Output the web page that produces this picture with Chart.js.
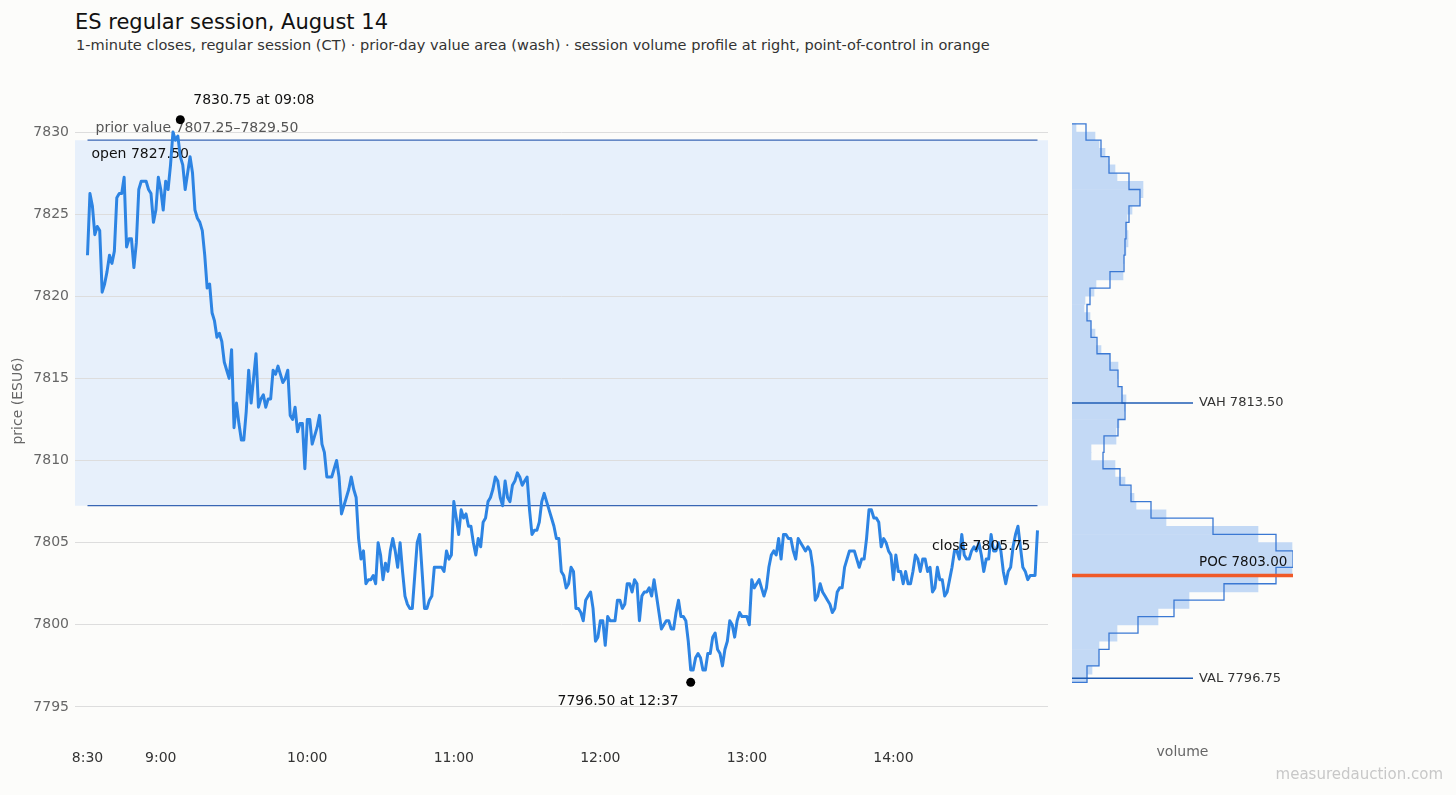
<!DOCTYPE html>
<html>
<head>
<meta charset="utf-8">
<script src="https://cdn.jsdelivr.net/npm/chart.js@4.4.1/dist/chart.umd.min.js"></script>
<style>
  html, body { margin: 0; padding: 0; background: #fcfcfa; }
  body { width: 1456px; height: 795px; position: relative; overflow: hidden; font-family: "DejaVu Sans", sans-serif; }
  #title    { position: absolute; left: 75px; top: 10px; font-size: 21px; color: #111; white-space: nowrap; }
  #subtitle { position: absolute; left: 76px; top: 36px; font-size: 14.55px; color: #333; white-space: nowrap; }
  #mark     { position: absolute; right: 13px; top: 765px; font-size: 15px; color: #c8c8c8; }
  #mainWrap { position: absolute; left: 0; top: 0; width: 1060px; height: 795px; }
  #profWrap { position: absolute; left: 1060px; top: 0; width: 396px; height: 795px; }
</style>
</head>
<body>
<div id="title">ES regular session, August 14</div>
<div id="subtitle">1-minute closes, regular session (CT) · prior-day value area (wash) · session volume profile at right, point-of-control in orange</div>
<div id="mainWrap"><canvas id="priceChart"></canvas></div>
<div id="profWrap"><canvas id="profileChart"></canvas></div>
<div id="mark">measuredauction.com</div>

<script>
// 1-minute closes from 08:30 CT, one per minute (index = minutes after the open)
const closes = [
  7822.5, 7826.25, 7825.5, 7823.75, 7824.25, 7824.0, 7820.25, 7820.75, 7821.5, 7822.5,
  7822.0, 7822.75, 7826.0, 7826.25, 7826.25, 7827.25, 7823.0, 7823.5, 7823.5, 7821.75,
  7823.25, 7826.5, 7827.0, 7827.0, 7827.0, 7826.5, 7826.25, 7824.5, 7825.25, 7827.25,
  7826.5, 7825.25, 7827.0, 7826.5, 7828.0, 7830.0, 7829.5, 7829.75, 7828.5, 7828.0,
  7826.5, 7827.5, 7828.5, 7827.5, 7825.25, 7824.75, 7824.5, 7824.0, 7822.5, 7820.5,
  7820.75, 7819.0, 7818.5, 7817.5, 7817.75, 7817.25, 7816.0, 7815.5, 7815.0, 7816.75,
  7812.0, 7813.5, 7812.25, 7811.25, 7811.25, 7813.0, 7815.5, 7813.5, 7815.0, 7816.5,
  7813.25, 7813.75, 7814.0, 7813.25, 7813.75, 7813.75, 7815.5, 7815.25, 7815.75, 7815.25,
  7814.75, 7815.0, 7815.5, 7812.75, 7812.5, 7813.25, 7811.75, 7812.25, 7812.25, 7809.5,
  7812.5, 7812.5, 7811.0, 7811.5, 7812.0, 7812.75, 7811.0, 7810.5, 7809.0, 7809.0,
  7809.0, 7809.5, 7810.0, 7809.0, 7806.75, 7807.25, 7807.75, 7808.25, 7809.0, 7808.25,
  7807.75, 7805.25, 7804.0, 7804.5, 7802.5, 7802.75, 7802.75, 7803.0, 7802.5, 7805.0,
  7804.25, 7802.75, 7803.75, 7803.25, 7804.5, 7805.25, 7804.5, 7803.5, 7805.0, 7803.25,
  7801.75, 7801.25, 7801.0, 7801.0, 7803.0, 7805.0, 7805.5, 7803.25, 7801.0, 7801.0,
  7801.5, 7801.75, 7803.5, 7803.5, 7803.5, 7803.5, 7803.25, 7804.5, 7804.0, 7804.25,
  7807.5, 7806.5, 7805.5, 7807.0, 7806.5, 7806.75, 7806.0, 7806.0, 7805.0, 7804.25,
  7805.25, 7804.75, 7806.25, 7806.5, 7807.5, 7807.75, 7808.25, 7809.0, 7808.75, 7807.75,
  7807.25, 7808.75, 7807.75, 7807.5, 7808.5, 7808.75, 7809.25, 7809.0, 7808.5, 7808.75,
  7809.0, 7807.0, 7805.5, 7805.75, 7805.75, 7806.25, 7807.5, 7808.0, 7807.5, 7807.0,
  7806.5, 7806.0, 7805.25, 7805.25, 7803.25, 7803.0, 7802.25, 7802.5, 7803.5, 7803.25,
  7801.0, 7801.0, 7800.75, 7800.25, 7801.5, 7801.75, 7802.0, 7801.0, 7799.0, 7799.25,
  7800.25, 7800.25, 7798.75, 7800.5, 7800.25, 7800.25, 7800.25, 7801.5, 7801.5, 7801.0,
  7801.25, 7802.5, 7802.5, 7802.0, 7802.75, 7802.5, 7800.25, 7801.75, 7802.0, 7802.0,
  7802.25, 7801.75, 7802.75, 7801.75, 7800.75, 7799.75, 7800.0, 7800.25, 7800.25, 7799.75,
  7799.75, 7800.75, 7801.5, 7800.5, 7800.5, 7800.25, 7799.0, 7797.25, 7797.25, 7798.0,
  7798.25, 7798.0, 7797.25, 7797.25, 7798.25, 7798.25, 7799.25, 7799.5, 7798.5, 7798.25,
  7797.5, 7798.5, 7799.0, 7800.25, 7800.0, 7799.25, 7800.25, 7800.75, 7800.5, 7800.5,
  7800.5, 7800.0, 7802.75, 7802.25, 7802.5, 7802.75, 7802.25, 7801.75, 7802.25, 7803.5,
  7804.25, 7804.5, 7804.25, 7805.25, 7804.0, 7805.5, 7805.5, 7805.25, 7805.25, 7804.5,
  7804.0, 7805.25, 7805.0, 7804.75, 7804.5, 7804.75, 7804.5, 7803.5, 7801.5, 7801.75,
  7802.5, 7802.0, 7801.75, 7801.5, 7801.25, 7800.75, 7801.0, 7802.0, 7802.25, 7802.25,
  7803.5, 7804.0, 7804.5, 7804.5, 7804.5, 7804.0, 7803.5, 7804.0, 7804.0, 7805.25,
  7807.0, 7807.0, 7806.5, 7806.5, 7806.25, 7804.75, 7805.25, 7805.0, 7804.5, 7804.25,
  7802.75, 7804.25, 7803.25, 7803.25, 7802.5, 7803.25, 7802.5, 7802.5, 7803.25, 7804.25,
  7804.0, 7803.25, 7804.0, 7804.0, 7803.25, 7803.5, 7802.0, 7802.25, 7803.5, 7802.75,
  7802.75, 7801.75, 7802.0, 7802.75, 7803.5, 7804.5, 7804.5, 7804.0, 7805.5, 7804.25,
  7804.0, 7804.0, 7804.5, 7804.75, 7804.5, 7805.0, 7804.25, 7803.25, 7804.0, 7804.0,
  7805.5, 7804.5, 7804.5, 7805.0, 7804.5, 7803.25, 7802.5, 7803.25, 7803.5, 7804.75,
  7805.5, 7806.0, 7804.75, 7803.5, 7803.25, 7802.75, 7803.0, 7803.0, 7803.0, 7805.75,
];

const timeTickMinutes = [0, 30, 90, 150, 210, 270, 330];
const timeTickLabels  = ['8:30', '9:00', '10:00', '11:00', '12:00', '13:00', '14:00'];
const priceTicks      = [7795, 7800, 7805, 7810, 7815, 7820, 7825, 7830];

const priorVAL = 7807.25;
const priorVAH = 7829.50;
const openPrice  = 7827.50;
const closePrice = 7805.75;
const sessionHigh = { minute: 38,  price: 7830.75 };
const sessionLow  = { minute: 247, price: 7796.50 };

// session volume profile, half-point bins from 7796.50 upward (relative volume)
const profileLow = 7796.5;
const profileVolume = [
  15, 20, 27, 27, 27, 45, 45, 86, 86, 117,
  117, 186, 186, 220, 220, 220, 220, 186, 186, 94,
  94, 64, 62, 58, 53, 43, 43, 19, 19, 44,
  44, 47, 52, 53, 54, 50, 45, 46, 46, 38,
  29, 24, 23, 19, 18, 12, 13, 22, 24, 51,
  51, 52, 54, 56, 56, 55, 55, 60, 68, 71,
  71, 45, 43, 37, 33, 27, 23, 4,
];
// same profile in one-point bins centred on 7797 ... 7830 (step outline)
const profileOutline = [
  15, 27, 37, 66, 102, 152, 204, 221, 204, 141,
  79, 59, 48, 31, 32, 46, 53, 50, 46, 38,
  25, 19, 15, 18, 38, 52, 53, 54, 57, 68,
  57, 37, 29, 14,
];
const sessionVAH = 7813.50;
const sessionVAL = 7796.75;
const sessionPOC = 7803.00;

// shared price range so both panels line up
const yMin = 7793.5;
const yMax = 7833.75;

Chart.defaults.font.family = '"DejaVu Sans", sans-serif';
Chart.defaults.animation = false;

function fmtPrice(p) {
  return p.toFixed(2);
}

function clock(minute) {
  const t = 8 * 60 + 30 + minute;
  const h = Math.floor(t / 60), m = t % 60;
  return String(h).padStart(2, '0') + ':' + String(m).padStart(2, '0');
}

function text(ctx, str, x, y, { size = 14, color = '#111', align = 'left' } = {}) {
  ctx.save();
  ctx.font = `${size}px "DejaVu Sans", sans-serif`;
  ctx.fillStyle = color;
  ctx.textAlign = align;
  ctx.textBaseline = 'middle';
  ctx.fillText(str, x, y);
  ctx.restore();
}

const lastMinute = closes.length - 1;

// wash + annotations for the price panel
const priceMarks = {
  id: 'priceMarks',
  beforeDraw(chart) {
    const { ctx, chartArea: a, scales: { y } } = chart;
    const top = y.getPixelForValue(priorVAH);
    const bot = y.getPixelForValue(priorVAL);
    ctx.save();
    ctx.fillStyle = '#e7f0fb';
    ctx.fillRect(a.left, top, a.right - a.left, bot - top);
    ctx.restore();
  },
  beforeDatasetsDraw(chart) {
    const { ctx, scales: { x, y } } = chart;
    text(ctx, `prior value ${fmtPrice(priorVAL)}–${fmtPrice(priorVAH)}`,
      x.getPixelForValue(0) + 8, y.getPixelForValue(priorVAH) - 12, { color: '#555' });
    text(ctx, `open ${fmtPrice(openPrice)}`,
      x.getPixelForValue(0) + 4, y.getPixelForValue(openPrice) - 19);
  },
  afterDatasetsDraw(chart) {
    const { ctx, scales: { x, y } } = chart;
    text(ctx, `${fmtPrice(sessionHigh.price)} at ${clock(sessionHigh.minute)}`,
      x.getPixelForValue(sessionHigh.minute) + 13, y.getPixelForValue(sessionHigh.price) - 19.5);
    text(ctx, `${fmtPrice(sessionLow.price)} at ${clock(sessionLow.minute)}`,
      x.getPixelForValue(sessionLow.minute) - 12, y.getPixelForValue(sessionLow.price) + 19, { align: 'right' });
    text(ctx, `close ${fmtPrice(closePrice)}`,
      x.getPixelForValue(lastMinute) - 7, y.getPixelForValue(closePrice) + 16, { align: 'right' });
  },
};

new Chart(document.getElementById('priceChart'), {
  type: 'line',
  data: {
    datasets: [
      {
        type: 'scatter',
        data: [
          { x: sessionHigh.minute, y: sessionHigh.price },
          { x: sessionLow.minute,  y: sessionLow.price },
        ],
        pointRadius: 4.5,
        pointBackgroundColor: '#000',
        pointBorderWidth: 0,
      },
      {
        data: closes.map((p, i) => ({ x: i, y: p })),
        borderColor: '#2d84e3',
        borderWidth: 3,
        pointRadius: 0,
        tension: 0,
        borderJoinStyle: 'round',
      },
      {
        data: [{ x: 0, y: priorVAH }, { x: lastMinute, y: priorVAH }],
        borderColor: '#3866b4',
        borderWidth: 1.2,
        pointRadius: 0,
      },
      {
        data: [{ x: 0, y: priorVAL }, { x: lastMinute, y: priorVAL }],
        borderColor: '#3866b4',
        borderWidth: 1.2,
        pointRadius: 0,
      },
    ],
  },
  options: {
    responsive: true,
    maintainAspectRatio: false,
    layout: { padding: { left: 0, right: 12, top: 70.4, bottom: 23.4 } },
    plugins: { legend: { display: false }, tooltip: { enabled: false } },
    scales: {
      x: {
        type: 'linear',
        min: -5.12,
        max: 393.3,
        afterBuildTicks: s => { s.ticks = timeTickMinutes.map(v => ({ value: v })); },
        afterFit: s => { s.height = 40; },
        grid: { display: false },
        border: { display: false },
        ticks: {
          color: '#333',
          font: { size: 14 },
          padding: 10,
          maxRotation: 0,
          autoSkip: false,
          callback: (v, i) => timeTickLabels[i],
        },
      },
      y: {
        type: 'linear',
        min: yMin,
        max: yMax,
        afterBuildTicks: s => { s.ticks = priceTicks.map(v => ({ value: v })); },
        afterFit: s => { s.width = 75; },
        grid: { color: '#dddddd', lineWidth: 1, drawTicks: false },
        border: { display: false },
        ticks: { color: '#666', font: { size: 14 }, padding: 6, callback: v => String(v) },
        title: {
          display: true,
          text: 'price (ESU6)',
          color: '#666',
          font: { size: 14 },
          padding: { top: 9.6, bottom: 0 },
        },
      },
    },
  },
  plugins: [priceMarks],
});

// profile panel
const binCenters = profileVolume.map((_, i) => profileLow + 0.25 + i * 0.5);
const outlinePts = [{ x: 0, y: profileLow }];
profileOutline.forEach((v, i) => outlinePts.push({ x: v, y: profileLow + i }));
outlinePts.push({ x: 0, y: profileLow + profileOutline.length });

const profileMarks = {
  id: 'profileMarks',
  afterDatasetsDraw(chart) {
    const { ctx, chartArea: a, scales: { y } } = chart;
    ctx.save();
    for (const [p, name] of [[sessionVAH, 'VAH'], [sessionVAL, 'VAL']]) {
      const py = y.getPixelForValue(p);
      ctx.strokeStyle = '#1f5cb4';
      ctx.lineWidth = 1.6;
      ctx.beginPath();
      ctx.moveTo(a.left, py);
      ctx.lineTo(a.left + 121, py);
      ctx.stroke();
      text(ctx, `${name} ${fmtPrice(p)}`, a.left + 127, py, { size: 13, color: '#333' });
    }
    const py = y.getPixelForValue(sessionPOC);
    ctx.strokeStyle = '#f05a28';
    ctx.lineWidth = 3.5;
    ctx.beginPath();
    ctx.moveTo(a.left, py);
    ctx.lineTo(a.right, py);
    ctx.stroke();
    ctx.restore();
    text(ctx, `POC ${fmtPrice(sessionPOC)}`, a.left + 127, py - 13, { size: 13.5, color: '#111' });
  },
};

new Chart(document.getElementById('profileChart'), {
  type: 'bar',
  data: {
    datasets: [
      {
        type: 'line',
        indexAxis: 'y',
        data: outlinePts,
        stepped: 'after',
        borderColor: '#3a78d3',
        borderWidth: 1.3,
        pointRadius: 0,
        fill: false,
      },
      {
        type: 'bar',
        indexAxis: 'y',
        data: binCenters.map((p, i) => ({ x: profileVolume[i], y: p })),
        backgroundColor: '#c3d9f5',
        borderWidth: 0,
        barPercentage: 1,
        categoryPercentage: 1,
      },
    ],
  },
  options: {
    indexAxis: 'y',
    responsive: true,
    maintainAspectRatio: false,
    layout: { padding: { left: 12, right: 163, top: 70.4, bottom: 23.4 } },
    plugins: { legend: { display: false }, tooltip: { enabled: false } },
    scales: {
      x: {
        type: 'linear',
        min: 0,
        max: 221,
        afterFit: s => { s.height = 40; },
        grid: { display: false },
        border: { display: false },
        ticks: { display: false },
        title: {
          display: true,
          text: 'volume',
          color: '#666',
          font: { size: 14 },
          padding: { top: 0, bottom: 11.2 },
        },
      },
      y: {
        type: 'linear',
        min: yMin,
        max: yMax,
        offset: false,
        display: false,
        grid: { display: false },
      },
    },
  },
  plugins: [profileMarks],
});
</script>
</body>
</html>
